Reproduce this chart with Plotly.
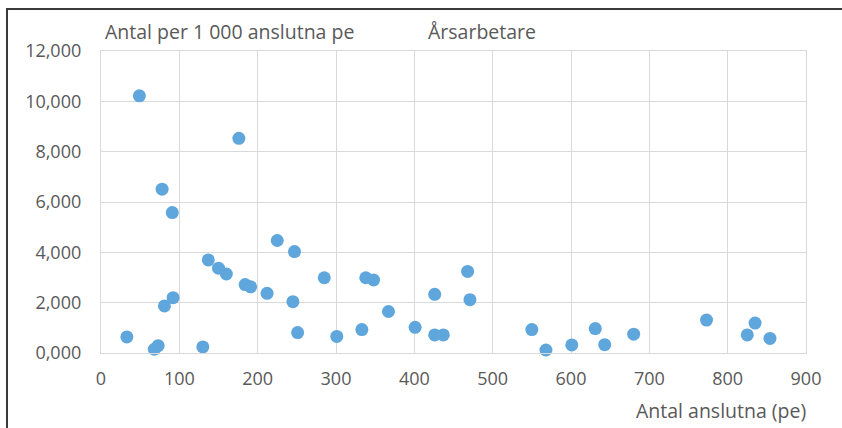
import plotly.graph_objects as go

pe = [49, 176, 78, 91, 33, 68, 73, 81, 92, 130, 137, 150, 160, 184, 191, 212, 225, 247, 245, 251,
      285, 301, 333, 338, 348, 367, 401, 426, 426, 437, 468, 471, 550, 568, 601, 631, 643, 680,
      773, 825, 835, 854]
arsarb = [10220, 8530, 6510, 5580, 640, 150, 290, 1870, 2200, 240, 3700, 3370, 3140, 2720, 2630, 2370,
          4470, 4030, 2040, 810, 2990, 660, 930, 2990, 2900, 1650, 1020, 2330, 720, 720, 3240, 2120,
          930, 120, 320, 970, 330, 750, 1310, 720, 1190, 580]

x_ticks = [0, 100, 200, 300, 400, 500, 600, 700, 800, 900]
y_ticks = [0, 2000, 4000, 6000, 8000, 10000, 12000]
y_tick_labels = ["0,000", "2,000", "4,000", "6,000", "8,000", "10,000", "12,000"]

W, H = 842, 428
ML, MR, MT, MB = 101, 36, 51, 75
pw, ph = W - ML - MR, H - MT - MB

def px_x(p):
    return (p - ML) / pw

def px_y(p):
    return (H - MB - p) / ph

font = "Open Sans"
grey = "#595959"
title_size = 19.5
tick_size = 18

fig = go.Figure(go.Scatter(
    x=pe, y=arsarb, mode="markers",
    marker=dict(size=13, color="#5fa6dc", line=dict(width=0)),
    cliponaxis=False,
))

fig.update_layout(
    width=W, height=H,
    margin=dict(l=ML, r=MR, t=MT, b=MB),
    paper_bgcolor="white", plot_bgcolor="white",
    showlegend=False,
    font=dict(family=font, size=tick_size, color=grey),
    xaxis=dict(range=[0, 900], tickvals=x_ticks, ticktext=[str(v) for v in x_ticks],
               showgrid=True, gridcolor="#d9d9d9", gridwidth=1.3, zeroline=False,
               showline=True, linecolor="#d9d9d9", linewidth=1.3, mirror=True,
               ticks="", ticklen=0, ticklabelstandoff=9,
               tickfont=dict(size=tick_size, color=grey)),
    yaxis=dict(range=[0, 12000], tickvals=y_ticks, ticktext=y_tick_labels,
               showgrid=True, gridcolor="#d9d9d9", gridwidth=1.3, zeroline=False,
               showline=True, linecolor="#d9d9d9", linewidth=1.3, mirror=True,
               ticks="", ticklabelstandoff=15,
               tickfont=dict(size=tick_size, color=grey)),
    annotations=[
        dict(text="Antal per 1 000 anslutna pe", xref="paper", yref="paper",
             x=px_x(103), y=px_y(31), xanchor="left", yanchor="middle",
             showarrow=False, font=dict(size=title_size, color=grey)),
        dict(text="Årsarbetare", xref="paper", yref="paper",
             x=px_x(426), y=px_y(31), xanchor="left", yanchor="middle",
             showarrow=False, font=dict(size=title_size, color=grey)),
        dict(text="Antal anslutna (pe)", xref="paper", yref="paper",
             x=px_x(808), y=px_y(410), xanchor="right", yanchor="middle",
             showarrow=False, font=dict(size=title_size, color=grey)),
    ],
    shapes=[
        dict(type="rect", xref="paper", yref="paper",
             x0=px_x(7), x1=px_x(W + 20), y0=px_y(H + 20), y1=px_y(9),
             line=dict(color="#3a3a3a", width=2), fillcolor="rgba(0,0,0,0)",
             layer="above"),
    ],
)

fig.write_html("out.html", config={"displayModeBar": False},
               post_script="document.body.style.margin='0';document.body.style.overflow='hidden';")
